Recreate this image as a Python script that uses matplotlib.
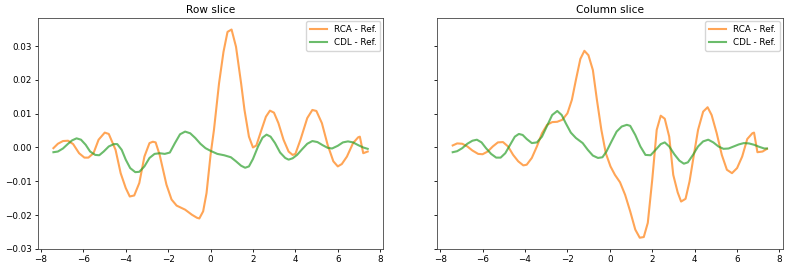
import numpy as np
import matplotlib
matplotlib.use("Agg")
import matplotlib.pyplot as plt

# ── Data ──────────────────────────────────────────────────────────────────────

row_rca_x = [-7.41, -7.2, -6.96, -6.72, -6.48, -6.2, -5.95, -5.76, -5.52, -5.28,
             -4.99, -4.8, -4.48, -4.24, -4.0, -3.81, -3.6, -3.36, -3.12, -2.88,
             -2.72, -2.59, -2.4, -2.08, -1.84, -1.6, -1.2, -0.88, -0.64, -0.53,
             -0.35, -0.19, 0.0, 0.16, 0.4, 0.61, 0.8, 0.99, 1.2, 1.44,
             1.6, 1.81, 2.0, 2.16, 2.4, 2.61, 2.8, 2.99, 3.2, 3.44,
             3.68, 3.87, 4.0, 4.24, 4.56, 4.8, 4.99, 5.25, 5.52, 5.79,
             6.0, 6.19, 6.43, 6.72, 6.96, 7.04, 7.2, 7.41]
row_rca_y = [-0.0002, 0.0011, 0.0019, 0.002, 0.001, -0.0017, -0.003, -0.003, -0.0017, 0.0023,
             0.0044, 0.004, -0.0007, -0.0076, -0.012, -0.0145, -0.0142, -0.0105, -0.0027, 0.0013,
             0.0017, 0.0015, -0.0022, -0.011, -0.0154, -0.0172, -0.0184, -0.0199, -0.0208, -0.021,
             -0.0189, -0.0135, -0.0022, 0.0052, 0.019, 0.0283, 0.0342, 0.0349, 0.0298, 0.019,
             0.0111, 0.0032, 0.0, 0.0006, 0.0052, 0.0091, 0.0109, 0.0103, 0.0072, 0.0023,
             -0.0012, -0.0022, -0.0019, 0.0023, 0.0087, 0.0111, 0.0108, 0.0072, 0.0008, -0.0041,
             -0.0056, -0.0049, -0.0027, 0.0013, 0.003, 0.0032, -0.0017, -0.0012]

row_cdl_x = [-7.41, -7.2, -6.96, -6.72, -6.53, -6.32, -6.11, -5.89, -5.68, -5.44,
             -5.25, -5.04, -4.8, -4.56, -4.4, -4.19, -4.0, -3.79, -3.55, -3.36,
             -3.12, -2.88, -2.64, -2.4, -2.16, -1.92, -1.68, -1.44, -1.2, -0.96,
             -0.72, -0.48, -0.24, 0.0, 0.32, 0.64, 0.96, 1.2, 1.44, 1.63,
             1.81, 2.0, 2.24, 2.45, 2.64, 2.83, 3.04, 3.28, 3.52, 3.68,
             3.87, 4.08, 4.32, 4.56, 4.8, 5.04, 5.28, 5.52, 5.73, 6.0,
             6.24, 6.48, 6.72, 6.96, 7.2, 7.41]
row_cdl_y = [-0.0014, -0.0012, -0.0003, 0.0011, 0.0021, 0.0027, 0.0023, 0.0008, -0.0012, -0.0022,
             -0.0023, -0.0012, 0.0003, 0.001, 0.001, -0.0007, -0.0036, -0.0061, -0.0073, -0.0072,
             -0.0056, -0.0031, -0.0019, -0.0017, -0.0019, -0.0015, 0.0013, 0.0039, 0.0047, 0.0042,
             0.0028, 0.0011, -0.0002, -0.001, -0.0019, -0.0023, -0.0029, -0.0041, -0.0054, -0.006,
             -0.0056, -0.0034, 0.0003, 0.0029, 0.0038, 0.0032, 0.0013, -0.0015, -0.0031, -0.0036,
             -0.0032, -0.0022, -0.0005, 0.0011, 0.0019, 0.0016, 0.0007, -0.0001, -0.0003, 0.0005,
             0.0015, 0.0018, 0.0015, 0.0007, 0.0, -0.0004]

col_rca_x = [-7.41, -7.2, -6.96, -6.72, -6.48, -6.21, -6.0, -5.76, -5.52, -5.28,
             -5.04, -4.8, -4.56, -4.32, -4.08, -3.92, -3.68, -3.44, -3.2, -2.96,
             -2.72, -2.48, -2.24, -2.0, -1.79, -1.6, -1.39, -1.2, -1.01, -0.8,
             -0.61, -0.4, -0.19, 0.03, 0.24, 0.48, 0.72, 0.96, 1.2, 1.41,
             1.6, 1.79, 2.0, 2.21, 2.4, 2.59, 2.8, 2.99, 3.2, 3.36,
             3.57, 3.76, 3.95, 4.16, 4.4, 4.61, 4.8, 5.04, 5.28, 5.52,
             5.76, 6.0, 6.24, 6.48, 6.72, 6.8, 6.96, 7.2, 7.41]
col_rca_y = [0.0006, 0.0012, 0.0011, 0.0003, -0.0009, -0.0019, -0.002, -0.0012, 0.0003, 0.0015,
             0.0016, 0.0003, -0.0022, -0.0041, -0.0053, -0.0051, -0.0031, 0.0003, 0.0042, 0.0067,
             0.0075, 0.0076, 0.0082, 0.0101, 0.0141, 0.02, 0.0262, 0.0286, 0.0273, 0.0229,
             0.0141, 0.0052, -0.0017, -0.0056, -0.0081, -0.0103, -0.014, -0.0189, -0.0243, -0.0267,
             -0.0265, -0.0223, -0.0095, 0.0052, 0.0094, 0.0085, 0.0032, -0.0081, -0.0133, -0.016,
             -0.0152, -0.01, -0.0027, 0.0052, 0.0106, 0.0119, 0.0096, 0.0042, -0.0022, -0.0066,
             -0.0076, -0.0061, -0.0027, 0.0025, 0.0042, 0.0044, -0.0014, -0.0012, -0.0004]

col_cdl_x = [-7.41, -7.2, -6.96, -6.72, -6.48, -6.27, -6.05, -5.84, -5.6, -5.36,
             -5.15, -4.93, -4.72, -4.48, -4.29, -4.11, -3.92, -3.68, -3.44, -3.2,
             -2.96, -2.72, -2.48, -2.27, -2.08, -1.84, -1.6, -1.28, -1.04, -0.8,
             -0.56, -0.35, -0.16, 0.08, 0.32, 0.56, 0.8, 0.96, 1.2, 1.44,
             1.68, 1.92, 2.16, 2.4, 2.59, 2.8, 3.04, 3.28, 3.49, 3.68,
             3.92, 4.16, 4.4, 4.64, 4.88, 5.12, 5.36, 5.6, 5.84, 6.08,
             6.32, 6.56, 6.8, 7.04, 7.28, 7.41]
col_cdl_y = [-0.0014, -0.0011, -0.0002, 0.0011, 0.002, 0.0023, 0.0015, -0.0002, -0.0019, -0.003,
             -0.003, -0.0017, 0.0006, 0.0032, 0.004, 0.0037, 0.0025, 0.0013, 0.0015, 0.0032,
             0.0064, 0.0096, 0.0108, 0.0096, 0.0072, 0.0044, 0.0028, 0.0013, -0.0007, -0.0024,
             -0.0031, -0.0029, -0.0012, 0.0018, 0.0047, 0.0062, 0.0067, 0.0064, 0.0037, 0.0003,
             -0.0022, -0.0023, -0.0007, 0.001, 0.0015, 0.0003, -0.002, -0.0039, -0.0048, -0.0044,
             -0.0022, 0.0003, 0.0018, 0.0023, 0.0015, 0.0003, -0.0004, -0.0003, 0.0003, 0.0009,
             0.0013, 0.0012, 0.0008, 0.0002, -0.0003, -0.0003]

titles = ["Row slice", "Column slice"]
labels = ["RCA - Ref.", "CDL - Ref."]

# ── Figure ────────────────────────────────────────────────────────────────────

plt.rcParams.update({
    "font.size": 6.3,
    "axes.titlesize": 7.6,
    "axes.linewidth": 0.6,
    "xtick.major.size": 2.2,
    "ytick.major.size": 2.2,
    "xtick.major.width": 0.6,
    "ytick.major.width": 0.6,
    "xtick.major.pad": 2.2,
    "ytick.major.pad": 2.2,
})

fig, axes = plt.subplots(1, 2, figsize=(7.89, 2.70), dpi=100, sharey=True)
fig.subplots_adjust(left=0.0478, right=0.992, bottom=0.077, top=0.932, wspace=0.155)

panels = [
    (row_rca_x, row_rca_y, row_cdl_x, row_cdl_y),
    (col_rca_x, col_rca_y, col_cdl_x, col_cdl_y),
]

for ax, title, (rx, ry, cx, cy) in zip(axes, titles, panels):
    ax.plot(rx, ry, color="C1", alpha=0.7, linewidth=1.5, label=labels[0])
    ax.plot(cx, cy, color="C2", alpha=0.7, linewidth=1.5, label=labels[1])
    ax.set_title(title, pad=3.5)
    ax.set_xticks(np.arange(-8, 9, 2))
    ax.legend(loc="upper right", fontsize=6.3, borderaxespad=0.35)
    for sp in ax.spines.values():
        sp.set_edgecolor("#444444")

axes[0].set_ylim(-0.0301, 0.0382)
axes[0].set_yticks(np.arange(-0.03, 0.031, 0.01))

plt.savefig("out.png", dpi=100)
plt.close()
